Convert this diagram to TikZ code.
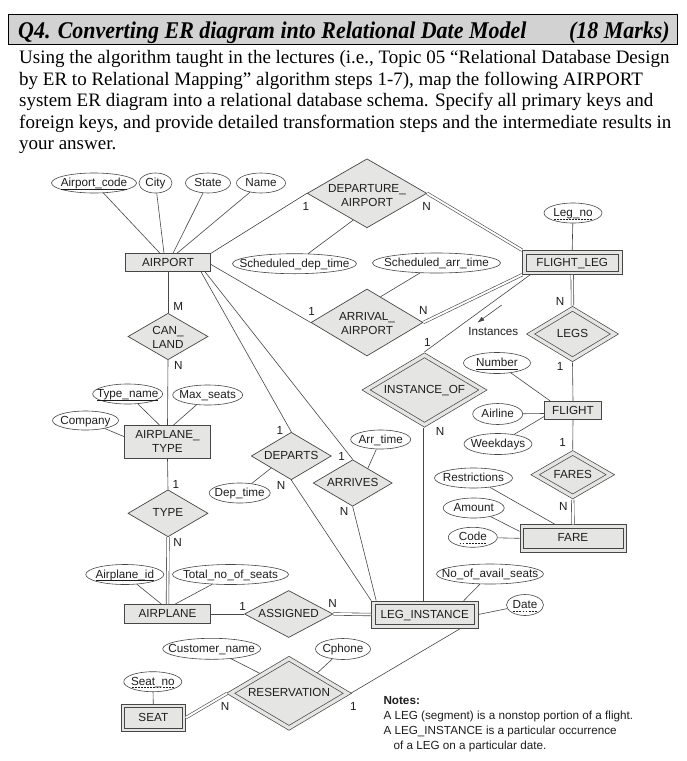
\documentclass[tikz,border=0pt]{standalone}
\usepackage{fontspec}
\setmainfont{Liberation Serif}
\newfontfamily\dsans{Liberation Sans}
\usetikzlibrary{shapes.geometric,arrows.meta,calc}
\newcommand{\zbx}[1]{\makebox[0pt]{#1}}
\newsavebox\ulbox
\newcommand{\sul}[1]{\sbox\ulbox{#1}\rlap{\raisebox{-2.6pt}{\rule{\wd\ulbox}{0.5pt}}}\usebox\ulbox}
\newcommand{\dul}[1]{\sbox\ulbox{#1}\rlap{\raisebox{-2.6pt}{\hbox to \wd\ulbox{\xleaders\hbox to 3pt{\hss\vrule height 0.5pt width 1.8pt\hss}\hfil}}}\usebox\ulbox}
\definecolor{ln}{RGB}{70,70,70}
\definecolor{fl}{RGB}{229,230,228}
\definecolor{tboxc}{RGB}{210,210,210}
\definecolor{tx}{RGB}{30,30,30}
\tikzset{
  dfont/.style={font=\dsans\fontsize{11.7}{14}\selectfont, text=tx},
  ent/.style={rectangle, draw=ln, fill=fl, line width=0.7pt, inner sep=0pt, dfont, text height=9pt, text depth=2pt},
  went/.style={ent, path picture={\draw[ln, line width=0.7pt] ([shift={(3.3pt,3.3pt)}]path picture bounding box.south west) rectangle ([shift={(-3.3pt,-3.3pt)}]path picture bounding box.north east);}},
  rel/.style={diamond, draw=ln, fill=fl, line width=0.7pt, inner sep=0pt, dfont, text height=9pt, text depth=2pt},
  wrel/.style={rel, double=fl, double distance=3.4pt, outer sep=2.4pt},
  att/.style={ellipse, draw=ln, fill=white, line width=0.6pt, inner sep=0pt, minimum height=20pt, dfont, text height=9pt, text depth=2pt},
  cl/.style={dfont, inner sep=0pt},
  con/.style={draw=ln, line width=0.6pt},
  tot/.style={draw=ln, line width=0.6pt, double=white, double distance=2pt},
  dtxt/.style={align=center, dfont, inner sep=0pt},
  body/.style={anchor=base west, inner sep=0pt, font=\fontsize{19}{22}\selectfont, text=black},
  ttlf/.style={inner sep=0pt, font=\fontsize{24}{28}\selectfont\bfseries\itshape, text=black},
  notes/.style={anchor=base west, inner sep=0pt, dfont},
}
\begin{document}
\begin{tikzpicture}[x=1pt,y=-1pt]
\useasboundingbox (0,0) rectangle (686,761);
\fill[white] (0,0) rectangle (686,761);
% title
\node[draw=black, fill=tboxc, line width=0.8pt, minimum width=669pt, minimum height=30pt, inner sep=0pt] (tbox) at (342.5,29) {};
\node[ttlf, anchor=base west] (ttl) at (18,38.5) {\scalebox{0.915}[1]{Q4. Converting ER diagram into Relational Date Model}};
\node[ttlf, anchor=base east] (mks) at (670,38.5) {\scalebox{0.915}[1]{(18 Marks)}};
\node[body] (b1) at (19,63.5) {Using the algorithm taught in the lectures (i.e., Topic 05 “Relational Database Design};
\node[body] (b2) at (19,85) {by ER to Relational Mapping” algorithm steps 1-7), map the following AIRPORT};
\node[body] (b3) at (19,106.5) {system ER diagram into a relational database schema. Specify all primary keys and};
\node[body] (b4) at (19,128) {foreign keys, and provide detailed transformation steps and the intermediate results in};
\node[body] (b5) at (19,149.5) {your answer.};

% entities
\node[ent, minimum width=85.3pt, minimum height=17.8pt] (airport) at (168,262.5) {\zbx{AIRPORT}};
\node[went, minimum width=99.3pt, minimum height=23.8pt] (fleg) at (572.2,262.5) {\zbx{FLIGHT\_LEG}};
\node[ent, minimum width=85.7pt, minimum height=32.6pt, label={[dtxt]center:AIRPLANE\_\\TYPE}] (aptype) at (167.5,441.7) {};
\node[ent, minimum width=85.7pt, minimum height=19pt] (airplane) at (167.5,614) {\zbx{AIRPLANE}};
\node[went, minimum width=106.3pt, minimum height=27pt] (legi) at (424.7,614.5) {\zbx{LEG\_INSTANCE}};
\node[ent, minimum width=57pt, minimum height=18.5pt] (flight) at (573,410.5) {\zbx{FLIGHT}};
\node[went, minimum width=106.3pt, minimum height=27.3pt] (fare) at (573,538.3) {\zbx{FARE}};
\node[went, minimum width=64pt, minimum height=27pt] (seat) at (153.3,717.8) {\zbx{SEAT}};

% relationships
\node[rel, minimum width=119.5pt, minimum height=69pt, label={[dtxt, yshift=-2pt]center:DEPARTURE\_\\AIRPORT}] (depa) at (367,193.3) {};
\node[rel, minimum width=112pt, minimum height=67pt, label={[dtxt, yshift=-1pt]center:ARRIVAL\_\\AIRPORT}] (arra) at (367,322.5) {};
\node[rel, minimum width=80pt, minimum height=46.5pt, label={[dtxt, yshift=-1pt]center:CAN\_\\LAND}] (canland) at (168,336.5) {};
\node[rel, minimum width=80pt, minimum height=47pt] (type) at (168,513.3) {\zbx{TYPE}};
\node[rel, minimum width=88.5pt, minimum height=47pt] (assigned) at (288.7,614) {\zbx{ASSIGNED}};
\node[rel, minimum width=80pt, minimum height=47.5pt] (departs) at (291.3,456) {\zbx{DEPARTS}};
\node[rel, minimum width=79pt, minimum height=46.5pt] (arrives) at (352.7,483) {\zbx{ARRIVES}};
\node[wrel, minimum width=118.7pt, minimum height=71.4pt] (instof) at (424.5,390) {\zbx{INSTANCE\_OF}};
\node[wrel, minimum width=85.8pt, minimum height=52.4pt] (legs) at (572.5,334) {\zbx{LEGS}};
\node[wrel, minimum width=77.2pt, minimum height=45.4pt] (fares) at (572.7,474.7) {\zbx{FARES}};
\node[wrel, minimum width=118.7pt, minimum height=71.1pt] (res) at (289,693.3) {\zbx{RESERVATION}};

% attributes
\node[att, minimum width=85pt] (acode) at (94,183) {\zbx{\sul{Airport\_code}}};
\node[att, minimum width=33pt] (city) at (155.5,183) {\zbx{City}};
\node[att, minimum width=45pt] (state) at (208,183) {\zbx{State}};
\node[att, minimum width=49pt] (aname) at (261,183) {\zbx{Name}};
\node[att, minimum width=124pt] (sdt) at (294.5,263.7) {\zbx{Scheduled\_dep\_time}};
\node[att, minimum width=128pt] (sat) at (436.5,263) {\zbx{Scheduled\_arr\_time}};
\node[att, minimum width=58pt] (legno) at (573,213) {\zbx{\dul{Leg\_no}}};
\node[att, minimum width=70pt] (tname) at (127.7,394) {\zbx{\sul{Type\_name}}};
\node[att, minimum width=70pt] (mseats) at (207.7,395) {\zbx{Max\_seats}};
\node[att, minimum width=66pt, minimum height=19pt] (company) at (85.5,420.5) {\zbx{Company}};
\node[att, minimum width=78pt] (aid) at (124.8,574.5) {\zbx{\sul{Airplane\_id}}};
\node[att, minimum width=116pt] (tseats) at (230.5,574.5) {\zbx{Total\_no\_of\_seats}};
\node[att, minimum width=61pt] (deptime) at (239.7,493) {\zbx{Dep\_time}};
\node[att, minimum width=60pt, minimum height=19pt] (arrtime) at (380.7,439.5) {\zbx{Arr\_time}};
\node[att, minimum width=67pt, minimum height=21pt] (number) at (497,363) {\zbx{\sul{Number}}};
\node[att, minimum width=50pt, minimum height=21pt] (airline) at (497.7,414) {\zbx{Airline}};
\node[att, minimum width=68pt, minimum height=21pt] (weekdays) at (498,444) {\zbx{Weekdays}};
\node[att, minimum width=78pt] (restr) at (473.5,478) {\zbx{Restrictions}};
\node[att, minimum width=61pt] (amount) at (473.7,508) {\zbx{Amount}};
\node[att, minimum width=49pt] (code) at (472.8,537.3) {\zbx{\dul{Code}}};
\node[att, minimum width=107pt] (noavail) at (490,574) {\zbx{No\_of\_avail\_seats}};
\node[att, minimum width=37pt, minimum height=21pt] (date) at (525,605) {\zbx{\dul{Date}}};
\node[att, minimum width=98pt, minimum height=21pt] (cname) at (211.7,648.8) {\zbx{Customer\_name}};
\node[att, minimum width=55pt, minimum height=21pt] (cphone) at (343,649) {\zbx{Cphone}};
\node[att, minimum width=58pt] (seatno) at (152.8,681.7) {\zbx{\dul{Seat\_no}}};

% attribute links
\draw[con] (acode) -- ([xshift=-8pt]airport.north);
\draw[con] (city) -- ([xshift=-4pt]airport.north);
\draw[con] (state) -- ([xshift=5pt]airport.north);
\draw[con] (aname) -- ([xshift=9pt]airport.north);
\draw[con] (sdt) -- ($(depa.west)!0.77!(depa.south)$);
\draw[con] (sat) -- ($(arra.north)!0.24!(arra.east)$);
\draw[con] (legno) -- (fleg.north);
\draw[con] (tname) -- ([xshift=-8pt]aptype.north);
\draw[con] (mseats) -- ([xshift=6pt]aptype.north);
\draw[con] (company) -- ([yshift=5pt]aptype.west);
\draw[con] (aid) -- ([xshift=-6pt]airplane.north);
\draw[con] (tseats) -- ([xshift=7.5pt]airplane.north);
\draw[con] (deptime) -- ($(departs.west)!0.5!(departs.south)$);
\draw[con] (arrtime) -- ($(arrives.north)!0.38!(arrives.east)$);
\draw[con] (number) -- ([xshift=6pt]flight.north west);
\draw[con] (airline) -- ([yshift=-3pt]flight.west);
\draw[con] (weekdays) -- ([yshift=-6pt]flight.west);
\draw[con] (restr) -- ([xshift=-18pt]fare.north);
\draw[con] (amount) -- ([yshift=7pt]fare.west);
\draw[con] (code) -- (fare.west);
\draw[con] (noavail) -- ([xshift=39pt]legi.north);
\draw[con] (date) -- (legi.east);
\draw[con] (cname) -- ($(res.west)!0.526!(res.north)$);
\draw[con] (cphone) -- ($(res.north)!0.46!(res.east)$);
\draw[con] (seatno) -- (seat.north);

% relationship links
\draw[con] (airport.north east) -- (depa.west);
\draw[tot] (depa.east) -- (fleg.north west);
\draw[con] ([yshift=-2pt]airport.east) -- (arra.west);
\draw[tot] (arra.east) -- (fleg.south west);
\draw[con] (airport.south) -- (canland.north);
\draw[con] (canland.south) -- (aptype.north);
\draw[con] (aptype.south) -- (type.north);
\draw[tot] (type.south) -- (airplane.north);
\draw[con] (airplane.east) -- (assigned.west);
\draw[tot] (assigned.east) -- (legi.west);
\draw[con] ([xshift=33pt]airport.south) -- (departs.north);
\draw[con] ([xshift=37pt]airport.south) -- (arrives.north);
\draw[con] (departs.south) -- (legi.north west);
\draw[con] (arrives.south) -- ([xshift=5pt]legi.north west);
\draw[con] ([xshift=8pt]fleg.south west) -- (instof.north);
\draw[tot] (instof.south) -- (legi.north -| instof.south);
\draw[tot] (fleg.south) -- (legs.north);
\draw[con] (legs.south) -- (flight.north);
\draw[con] (flight.south) -- (fares.north);
\draw[tot] (fares.south) -- (fare.north);
\draw[con] ([xshift=36pt]legi.south) -- (res.east);
\draw[tot] (res.west) -- (seat.east);

% instances arrow
\coordinate (ia) at (501.7,305);
\coordinate (ib) at (477.3,322.7);
\draw[con, -{Latex[length=7pt,width=4.5pt]}] (ia) -- (ib);
\node[cl] (inst) at (493.3,331.7) {Instances};

% cardinalities
\node[cl] (c1) at (306,206.7) {1};
\node[cl] (c2) at (426.7,206.7) {N};
\node[cl] (c3) at (311.7,311.7) {1};
\node[cl] (c4) at (423.3,310.7) {N};
\node[cl] (c5) at (178.3,306.5) {M};
\node[cl] (c6) at (178.3,365) {N};
\node[cl] (c7) at (176,484) {1};
\node[cl] (c8) at (177.7,542.7) {N};
\node[cl] (c9) at (280,430) {1};
\node[cl] (c10) at (281,485) {N};
\node[cl] (c11) at (341.7,456) {1};
\node[cl] (c12) at (344,511.7) {N};
\node[cl] (c13) at (242.7,606.7) {1};
\node[cl] (c14) at (332.7,603.3) {N};
\node[cl] (c15) at (427.3,342.7) {1};
\node[cl] (c16) at (440,431.7) {N};
\node[cl] (c17) at (560,301.7) {N};
\node[cl] (c18) at (560,366) {1};
\node[cl] (c19) at (562.7,442.7) {1};
\node[cl] (c20) at (563.3,506.7) {N};
\node[cl] (c21) at (225,706.7) {N};
\node[cl] (c22) at (353.3,706.7) {1};

% notes
\node[notes, font=\dsans\bfseries\fontsize{11.7}{14}\selectfont] (n0) at (383.3,704) {Notes:};
\node[notes] (n1) at (383.3,719.3) {A LEG (segment) is a nonstop portion of a flight.};
\node[notes] (n2) at (383.3,734.3) {A LEG\_INSTANCE is a particular occurrence};
\node[notes] (n3) at (393.3,749.3) {of a LEG on a particular date.};
\end{tikzpicture}
\end{document}
